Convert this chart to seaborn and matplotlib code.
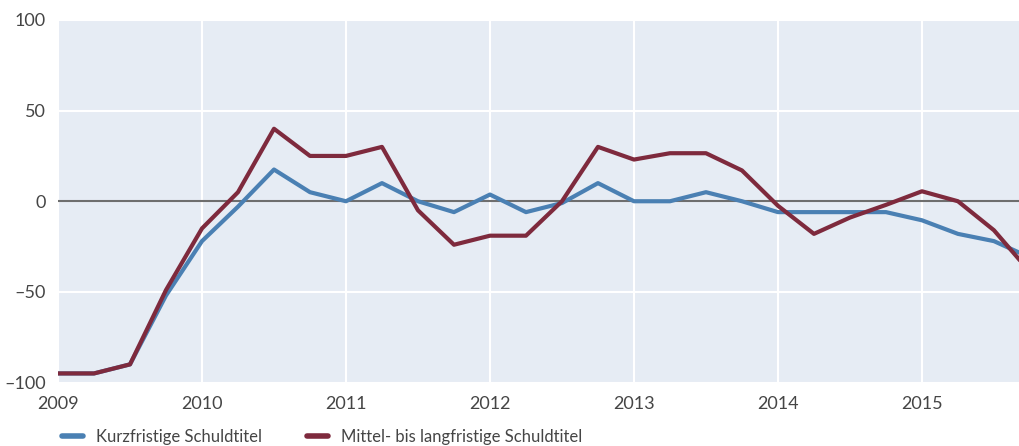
import matplotlib
matplotlib.use("Agg")
import matplotlib.pyplot as plt
import seaborn as sns
import numpy as np
import pandas as pd
from matplotlib.lines import Line2D

quarters = [2009.0, 2009.25, 2009.5, 2009.75, 2010.0, 2010.25, 2010.5, 2010.75,
            2011.0, 2011.25, 2011.5, 2011.75, 2012.0, 2012.25, 2012.5, 2012.75,
            2013.0, 2013.25, 2013.5, 2013.75, 2014.0, 2014.25, 2014.5, 2014.75,
            2015.0, 2015.25, 2015.5, 2015.75]
kurz = [-95, -95, -90, -52, -22, -3, 17.5, 5,
        0, 10, 0, -6, 3.7, -6, -1, 10,
        0, 0, 5, 0, -6, -6, -6, -6,
        -10.5, -18, -22, -31]
mittel = [-95, -95, -90, -49, -15, 5, 40, 25,
          25, 30, -5, -24, -19, -19, 0, 30,
          23, 26.5, 26.5, 17, -2.5, -18, -9, -2,
          5.5, 0, -16, -39]
series_names = ["Kurzfristige Schuldtitel", "Mittel- bis langfristige Schuldtitel"]
colors = ["#4A80B3", "#7E2A3D"]
yticks = [-100, -50, 0, 50, 100]
ytick_labels = ["\u2013100", "\u201350", "0", "50", "100"]
xticks = [2009, 2010, 2011, 2012, 2013, 2014, 2015]

df = pd.DataFrame({
    "x": quarters * 2,
    "y": kurz + mittel,
    "serie": [series_names[0]] * len(quarters) + [series_names[1]] * len(quarters),
})

sns.set_theme(style="white")
plt.rcParams['font.family'] = ['Lato', 'DejaVu Sans']

fig = plt.figure(figsize=(10.19, 4.46), dpi=100)
ax = fig.add_axes([58/1019, 1 - 382.5/446, 1 - 58/1019, (382.5 - 20)/446])
ax.set_facecolor("#E6ECF4")

sns.lineplot(data=df, x="x", y="y", hue="serie", palette=colors, linewidth=3,
             ax=ax, legend=False, zorder=3)

ax.axhline(0, color="#6E6E6E", linewidth=1.5, zorder=2)
ax.set_xlim(2009, 2015.674)
ax.set_ylim(-100, 100)
ax.set_xticks(xticks)
ax.set_xticklabels([str(t) for t in xticks])
ax.set_yticks(yticks)
ax.set_yticklabels(ytick_labels)
ax.grid(True, color="white", linewidth=1.5, zorder=1)
ax.set_axisbelow(True)
for s in ax.spines.values():
    s.set_visible(False)
ax.tick_params(axis="both", length=0, labelsize=13, colors="#454545", pad=10)
ax.tick_params(axis="y", pad=9)
ax.set_xlabel("")
ax.set_ylabel("")

handles = [Line2D([0], [0], color=c, linewidth=4) for c in colors]
fig.legend(handles, series_names, loc="center left", bbox_to_anchor=(47/1019, 1 - 437/446),
           ncol=2, frameon=False, fontsize=12, handlelength=1.25, handletextpad=0.8,
           columnspacing=2.7, labelcolor="#454545")

fig.savefig("out.png", dpi=100)
